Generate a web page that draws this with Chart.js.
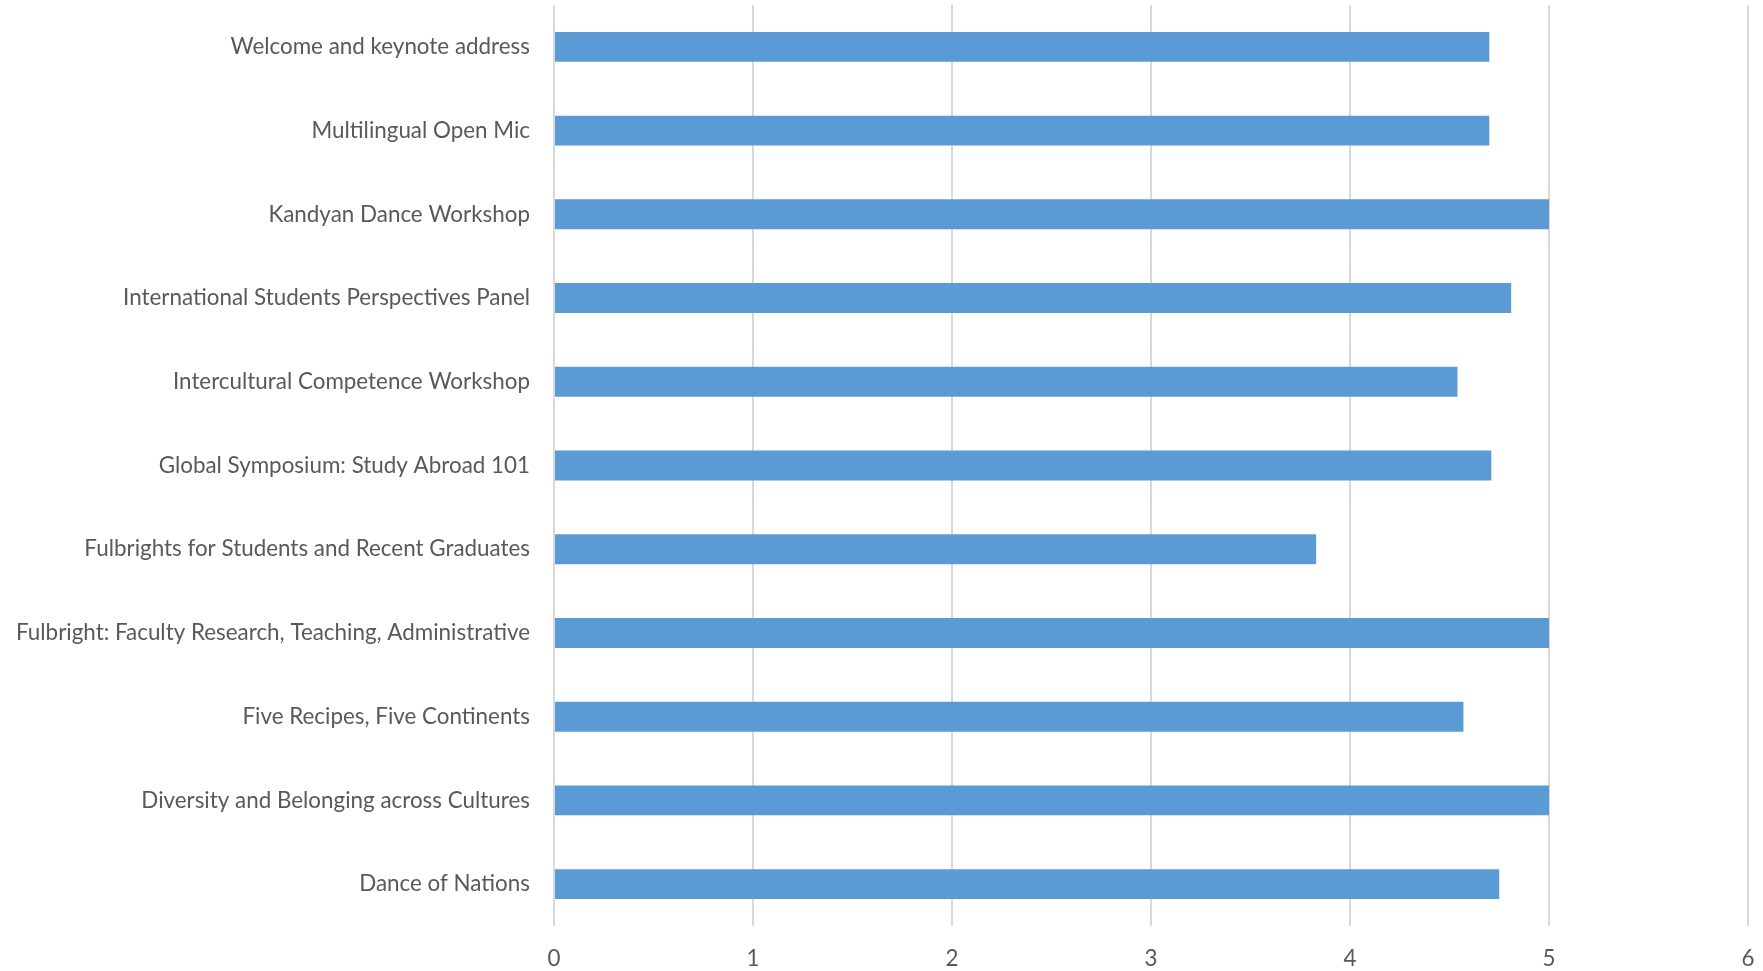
<!DOCTYPE html>
<html>
<head>
<meta charset="utf-8">
<script src="https://cdn.jsdelivr.net/npm/chart.js@4.4.1/dist/chart.umd.min.js"></script>
<style>
  html, body { margin: 0; padding: 0; background: #ffffff; }
  #wrap { width: 1763px; height: 971px; }
</style>
</head>
<body>
<div id="wrap"><canvas id="eventChart"></canvas></div>
<script>
// Average rating per event (top to bottom as in the chart)
const events = [
  "Welcome and keynote address",
  "Multilingual Open Mic",
  "Kandyan Dance Workshop",
  "International Students Perspectives Panel",
  "Intercultural Competence Workshop",
  "Global Symposium: Study Abroad 101",
  "Fulbrights for Students and Recent Graduates",
  "Fulbright: Faculty Research, Teaching, Administrative",
  "Five Recipes, Five Continents",
  "Diversity and Belonging across Cultures",
  "Dance of Nations",
];
const ratings = [4.7, 4.7, 5, 4.81, 4.54, 4.71, 3.83, 5, 4.57, 5, 4.75];
const xTicks = [0, 1, 2, 3, 4, 5, 6];

const labelFont = { family: "Lato, 'Open Sans', sans-serif", size: 22.4 };

const ctx = document.getElementById("eventChart");
new Chart(ctx, {
  type: "bar",
  data: {
    labels: events,
    datasets: [
      {
        data: ratings,
        backgroundColor: "#5b9bd5",
        borderWidth: 0,
        categoryPercentage: 1,
        barPercentage: 0.357,
      },
    ],
  },
  options: {
    indexAxis: "y",
    responsive: true,
    maintainAspectRatio: false,
    animation: false,
    layout: {
      padding: { top: 5, right: 15, bottom: 0, left: 0 },
    },
    plugins: {
      legend: { display: false },
      tooltip: { enabled: false },
    },
    scales: {
      x: {
        min: 0,
        max: 6,
        afterBuildTicks: (scale) => {
          scale.ticks = xTicks.map((v) => ({ value: v }));
        },
        afterFit: (scale) => {
          scale.height = 45;
          scale.paddingLeft = 0;
          scale.paddingRight = 0;
        },
        grid: {
          color: "#d9d9d9",
          lineWidth: 2,
          drawTicks: false,
        },
        border: { display: false },
        ticks: {
          color: "#595959",
          font: labelFont,
          padding: 19,
        },
      },
      y: {
        afterFit: (scale) => {
          // fixed label column, no extra top/bottom room for labels
          scale.width = 554;
          scale.paddingTop = 0;
          scale.paddingBottom = 0;
        },
        grid: { display: false, drawTicks: false },
        border: { display: false },
        ticks: {
          color: "#595959",
          font: labelFont,
          padding: 24,
        },
      },
    },
  },
});
</script>
</body>
</html>
